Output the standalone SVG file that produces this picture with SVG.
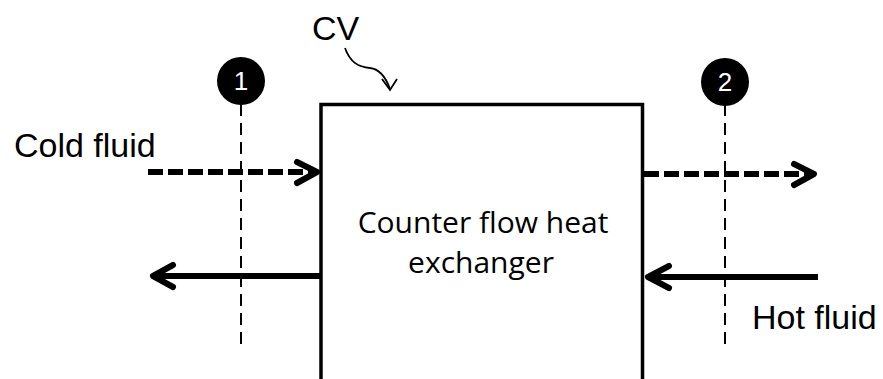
<svg xmlns="http://www.w3.org/2000/svg" width="883" height="379" viewBox="0 0 883 379">
<defs>
<style>
.lbl{font-family:"Liberation Sans",Arial,sans-serif;font-size:34px;fill:#000}
.ctr{font-family:"Open Sans","Liberation Sans",sans-serif;font-size:30px;fill:#000;text-anchor:middle}
.num{font-family:"Liberation Sans",Arial,sans-serif;font-size:26px;fill:#fff;text-anchor:middle}
.sec{stroke:#000;stroke-width:2;stroke-dasharray:12 7;fill:none}
.flowd{stroke:#000;stroke-width:6;stroke-dasharray:15 5;fill:none}
.flow{stroke:#000;stroke-width:6;fill:none}
.head{stroke:#000;stroke-width:6;fill:none;stroke-linecap:round;stroke-linejoin:round}
</style>
</defs>
<rect width="883" height="379" fill="#fff"/>
<g id="hx">
<path d="M321,385 V104.5 H642.5 V385" fill="none" stroke="#000" stroke-width="3.5"/>
<text class="ctr" x="483" y="233">Counter flow heat</text>
<text class="ctr" x="481" y="273">exchanger</text>
</g>
<g id="cv">
<text class="lbl" x="312" y="40" font-size="31">CV</text>
<path d="M345,48 C350,62 358,67 370,68 C380,69 386,78 390,89" fill="none" stroke="#000" stroke-width="1.8"/>
<path d="M382,79 L390,90 L397,79" fill="none" stroke="#000" stroke-width="1.8"/>
</g>
<g id="section1">
<line class="sec" x1="241" y1="104" x2="241" y2="347"/>
<circle cx="241" cy="81" r="24" fill="#000"/>
<text class="num" x="241" y="90">1</text>
</g>
<g id="section2">
<line class="sec" x1="725" y1="104" x2="725" y2="347"/>
<circle cx="725" cy="82" r="24" fill="#000"/>
<text class="num" x="725" y="91">2</text>
</g>
<g id="labels">
<text class="lbl" x="14" y="157">Cold fluid</text>
<text class="lbl" x="752" y="329">Hot fluid</text>
</g>
<g id="connectors">
<line class="flowd" x1="148" y1="172" x2="314" y2="172"/>
<path class="head" d="M297,162 L317,172 L297,183"/>
<line class="flowd" x1="644" y1="174" x2="811" y2="174"/>
<path class="head" d="M794,164 L814,174 L794,185"/>
<line class="flow" x1="321" y1="276" x2="156" y2="276"/>
<path class="head" d="M173,265 L153,276 L173,287"/>
<line class="flow" x1="818" y1="277" x2="647" y2="277"/>
<path class="head" d="M669,266 L648,277 L669,288"/>
</g>
</svg>
